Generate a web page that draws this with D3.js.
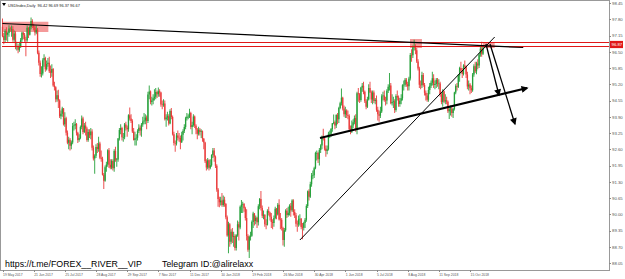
<!DOCTYPE html>
<html>
<head>
<meta charset="utf-8">
<script src="https://cdnjs.cloudflare.com/ajax/libs/d3/7.8.5/d3.min.js"></script>
<style>
    body { margin: 0; background: #fff; }
    svg { display: block; }
    .axis text { font-family: Arial, "Liberation Sans", sans-serif; fill: #555; }
    .axis path, .axis line { stroke: #888; shape-rendering: crispEdges; }
</style>
</head>
<body>
<div id="vis"></div>
<script>
// USDIndex daily bars, 19 May 2017 -> 29 Oct 2018 (one entry per bar)
var opens = [97.50,97.13,96.97,97.33,97.18,97.25,97.43,97.41,97.41,96.98,
97.23,96.71,96.73,96.58,96.73,96.98,97.26,97.18,96.99,96.96,
97.46,97.18,97.49,97.73,97.55,97.47,97.27,97.38,96.46,96.06,
95.61,95.63,96.16,96.25,95.80,96.01,96.06,95.72,95.66,95.81,
95.15,95.08,94.60,94.76,94.55,93.92,94.02,94.23,93.60,93.84,
93.26,92.86,92.98,92.74,92.87,93.53,93.55,93.61,93.26,92.97,
93.05,93.49,93.83,93.29,93.55,93.43,92.97,93.29,93.16,93.31,
92.66,92.23,92.34,92.69,92.61,92.83,92.26,92.22,91.58,91.34,
91.88,91.99,92.56,91.98,91.87,92.13,91.84,92.53,92.18,92.19,
93.03,93.37,93.45,93.08,93.08,93.59,93.46,93.40,93.96,93.83,
93.73,93.31,92.97,93.04,93.06,93.33,93.46,93.35,93.59,93.71,
93.75,93.87,93.73,94.79,94.91,94.49,94.55,94.64,94.70,94.89,
94.80,94.92,94.87,94.39,94.38,94.43,93.80,93.87,93.92,93.63,
94.13,93.89,93.20,92.85,92.83,93.15,93.06,93.05,92.88,93.18,
93.33,93.49,93.84,93.90,93.90,94.05,93.49,93.57,93.91,93.54,
93.39,93.22,93.38,93.29,93.32,93.02,92.87,92.12,91.87,92.16,
91.86,91.96,92.37,92.55,92.30,91.94,90.99,90.61,90.48,90.55,
90.37,90.58,90.41,89.88,89.15,89.60,88.90,89.30,89.10,89.13,
88.65,89.16,89.60,89.47,90.30,90.39,90.41,90.24,89.85,89.13,
88.58,89.10,89.14,89.69,90.03,89.73,89.86,89.68,90.32,90.61,
90.25,89.94,89.98,89.60,89.58,90.13,90.06,89.90,89.69,89.65,
89.85,90.22,89.99,90.38,89.79,89.78,89.45,88.97,89.36,90.14,
89.97,90.06,90.34,90.16,90.55,90.09,89.96,89.62,89.60,89.80,
89.82,89.49,89.46,89.65,89.78,90.33,90.92,90.70,91.20,91.55,
91.56,91.84,92.45,92.45,92.20,92.57,92.75,93.09,93.04,92.63,
92.53,92.60,93.22,93.22,93.41,93.64,93.68,93.55,93.97,93.80,
94.25,94.44,94.66,94.23,94.00,94.15,93.97,93.94,93.40,93.31,
93.55,93.68,93.85,93.43,94.84,94.80,94.57,95.07,95.14,94.90,
94.52,94.30,94.59,95.05,94.88,94.59,94.87,94.53,94.58,94.18,
94.00,93.94,94.11,94.72,94.75,94.57,94.55,94.94,95.10,95.15,
94.44,94.49,94.52,94.17,94.73,94.67,94.41,94.54,94.64,95.16,
95.18,95.38,95.20,95.12,95.43,96.37,96.36,96.68,96.72,96.56,
96.11,95.83,95.18,95.16,95.57,95.17,94.86,94.75,94.58,94.97,
95.14,95.26,95.44,95.17,95.21,95.38,95.23,95.23,94.79,94.49,
94.92,94.51,94.56,94.50,94.12,94.20,94.23,94.05,94.21,94.87,
95.13,95.10,95.55,95.85,95.74,95.61,95.95,95.90,95.59,95.11,
95.19,95.04,94.96,95.59,95.92,95.72,96.03,95.95,96.39,96.62,
96.42];
var highs = [97.83,97.25,97.40,97.48,97.30,97.56,97.50,97.55,97.52,97.35,
97.32,96.90,96.80,96.90,97.05,97.30,97.30,97.25,97.10,97.55,
97.48,97.55,97.87,97.80,97.62,97.55,97.55,97.45,96.55,96.15,
95.92,96.24,96.40,96.30,96.15,96.25,96.30,95.95,96.00,95.85,
95.30,95.12,94.95,94.98,94.60,94.15,94.30,94.25,94.08,93.90,
93.35,93.10,93.05,92.95,93.65,93.70,93.80,93.65,93.30,93.20,
93.55,93.95,93.90,93.65,93.70,93.50,93.40,93.40,93.45,93.40,
92.75,92.40,92.80,92.85,93.10,92.90,92.55,92.30,91.65,91.95,
92.10,92.60,92.65,92.20,92.20,92.20,92.60,92.70,92.25,93.05,
93.45,93.60,93.50,93.25,93.65,93.70,93.55,94.00,94.27,94.00,
93.80,93.45,93.30,93.20,93.40,93.60,93.55,93.65,93.90,94.05,
94.00,93.95,94.90,95.15,94.95,94.70,94.80,95.00,95.05,94.95,
95.07,95.00,94.90,94.55,94.60,94.55,94.00,94.10,94.00,94.20,
94.25,93.95,93.30,92.95,93.25,93.35,93.25,93.15,93.30,93.40,
93.60,93.90,94.05,94.00,94.22,94.10,93.70,94.00,93.95,93.60,
93.45,93.50,93.45,93.40,93.35,93.05,92.90,92.20,92.25,92.20,
92.20,92.40,92.65,92.65,92.35,92.00,91.05,90.70,90.70,90.85,
90.75,90.70,90.45,89.95,89.70,89.65,89.40,89.45,89.30,89.20,
89.20,89.75,89.70,90.35,90.57,90.50,90.45,90.30,90.20,89.20,
89.15,89.30,89.75,90.10,90.05,89.95,89.90,90.40,90.65,90.93,
90.35,90.15,90.00,89.80,90.20,90.30,90.10,90.05,89.80,89.95,
90.30,90.25,90.45,90.60,90.05,89.85,89.50,89.45,90.20,90.25,
90.30,90.40,90.45,90.60,90.60,90.20,90.05,89.75,89.95,90.00,
89.85,89.65,89.70,89.85,90.40,90.95,91.00,91.30,91.65,91.75,
91.90,92.50,92.55,92.50,92.65,92.80,93.15,93.42,93.10,92.75,
92.75,93.30,93.35,93.45,93.65,93.99,93.75,94.00,94.05,94.30,
94.50,95.03,94.70,94.35,94.30,94.20,94.15,94.00,93.55,93.75,
93.80,93.95,94.00,94.90,95.05,94.85,95.10,95.25,95.30,94.95,
94.60,94.70,95.20,95.30,94.95,94.95,94.95,94.65,94.75,94.30,
94.15,94.30,94.80,94.90,94.95,94.70,95.00,95.20,95.65,95.25,
94.80,94.70,94.60,94.80,94.95,94.75,94.65,94.80,95.20,95.35,
95.45,95.45,95.30,95.50,96.45,96.60,96.75,96.98,96.80,96.65,
96.20,95.90,95.35,95.70,95.65,95.25,94.95,94.85,95.10,95.25,
95.35,95.70,95.60,95.35,95.45,95.45,95.40,95.30,94.85,95.00,
94.95,94.80,94.70,94.55,94.30,94.35,94.30,94.25,94.90,95.20,
95.25,95.60,95.90,96.10,95.85,96.00,96.15,95.95,95.70,95.35,
95.25,95.15,95.65,96.00,96.10,96.10,96.20,96.45,96.70,96.90,
96.69];
var lows = [97.08,96.80,96.85,96.95,96.90,97.10,97.30,97.10,96.90,96.90,
96.60,96.55,96.44,96.50,96.65,96.90,97.00,96.90,96.32,96.90,
97.05,97.15,97.40,97.45,97.35,97.15,97.20,96.40,95.95,95.50,
95.47,95.55,95.90,95.70,95.75,95.90,95.65,95.45,95.50,95.10,
94.95,94.48,94.50,94.25,93.85,93.80,93.90,93.55,93.50,93.15,
92.80,92.60,92.55,92.60,92.80,93.35,93.40,93.15,92.85,92.90,
93.00,93.40,93.20,93.25,93.15,92.90,92.90,93.05,93.00,92.55,
92.15,91.62,92.25,92.45,92.50,92.20,92.10,91.55,91.01,91.30,
91.70,91.90,91.85,91.80,91.80,91.75,91.70,92.10,91.90,92.10,
92.95,93.20,92.95,92.90,93.00,93.35,93.10,93.30,93.75,93.65,
93.25,92.95,92.75,92.75,92.95,93.25,93.15,93.10,93.50,93.60,
93.60,93.40,93.65,94.60,94.40,94.35,94.40,94.55,94.60,94.65,
94.70,94.70,94.30,94.20,94.30,93.75,93.50,93.75,93.55,93.60,
93.80,93.15,92.75,92.50,92.75,92.95,92.90,92.60,92.85,92.95,
93.25,93.40,93.75,93.80,93.85,93.40,93.20,93.50,93.45,93.20,
93.00,93.15,93.15,93.05,92.90,92.60,92.05,91.75,91.80,91.75,
91.80,91.90,92.25,92.10,91.85,90.90,90.30,90.28,90.35,90.30,
90.30,90.30,89.80,89.10,88.44,88.70,88.80,88.85,88.70,88.55,
88.55,89.10,88.95,89.40,90.05,90.05,90.10,89.75,88.95,88.50,
88.25,88.95,89.10,89.45,89.55,89.60,89.45,89.55,90.20,90.15,
89.85,89.80,89.50,89.40,89.55,89.95,89.75,89.45,89.40,89.50,
89.80,89.80,89.95,89.75,89.40,89.35,88.75,88.70,89.30,89.85,
89.90,89.95,89.90,90.10,89.95,89.85,89.50,89.30,89.50,89.55,
89.40,89.00,89.35,89.45,89.70,90.25,90.55,90.65,91.10,91.40,
91.45,91.80,92.15,92.05,91.95,92.45,92.60,92.95,92.55,92.30,
92.40,92.55,93.05,93.10,93.30,93.60,93.40,93.45,93.60,93.65,
94.20,94.35,94.15,93.90,93.85,93.85,93.80,93.30,93.20,93.25,
93.45,93.60,93.30,93.20,94.50,94.45,94.50,94.90,94.80,94.45,
94.20,94.25,94.55,94.85,94.45,94.40,94.45,94.40,94.10,93.75,
93.70,93.85,94.05,94.55,94.50,94.35,94.40,94.85,94.95,94.40,
94.35,94.25,94.05,94.10,94.55,94.30,94.30,94.40,94.55,94.95,
95.10,95.10,94.95,94.95,95.35,96.10,96.25,96.55,96.40,96.05,
95.75,95.05,95.00,95.05,95.10,94.75,94.55,94.50,94.50,94.80,
95.05,95.15,95.05,95.00,95.05,95.10,95.00,94.70,94.40,94.30,
94.45,94.40,94.40,94.05,93.81,93.95,93.90,93.85,94.15,94.80,
94.95,95.05,95.30,95.65,95.45,95.55,95.80,95.45,95.00,94.95,
94.80,94.85,94.90,95.50,95.65,95.60,95.80,95.85,96.30,96.30,
96.37];
var closes = [97.13,96.97,97.33,97.18,97.25,97.43,97.41,97.41,96.98,97.23,
96.71,96.73,96.58,96.73,96.98,97.26,97.18,96.99,96.96,97.46,
97.18,97.49,97.73,97.55,97.47,97.27,97.38,96.46,96.06,95.61,
95.63,96.16,96.25,95.80,96.01,96.06,95.72,95.66,95.81,95.15,
95.08,94.60,94.76,94.55,93.92,94.02,94.23,93.60,93.84,93.26,
92.86,92.98,92.74,92.87,93.53,93.55,93.61,93.26,92.97,93.05,
93.49,93.83,93.29,93.55,93.43,92.97,93.29,93.16,93.31,92.66,
92.23,92.34,92.69,92.61,92.83,92.26,92.22,91.58,91.34,91.88,
91.99,92.56,91.98,91.87,92.13,91.84,92.53,92.18,92.19,93.03,
93.37,93.45,93.08,93.08,93.59,93.46,93.40,93.96,93.83,93.73,
93.31,92.97,93.04,93.06,93.33,93.46,93.35,93.59,93.71,93.75,
93.87,93.73,94.79,94.91,94.49,94.55,94.64,94.70,94.89,94.80,
94.92,94.87,94.39,94.38,94.43,93.80,93.87,93.92,93.63,94.13,
93.89,93.20,92.85,92.83,93.15,93.06,93.05,92.88,93.18,93.33,
93.49,93.84,93.90,93.90,94.05,93.49,93.57,93.91,93.54,93.39,
93.22,93.38,93.29,93.32,93.02,92.87,92.12,91.87,92.16,91.86,
91.96,92.37,92.55,92.30,91.94,90.99,90.61,90.48,90.55,90.37,
90.58,90.41,89.88,89.15,89.60,88.90,89.30,89.10,89.13,88.65,
89.16,89.60,89.47,90.30,90.39,90.41,90.24,89.85,89.13,88.58,
89.10,89.14,89.69,90.03,89.73,89.86,89.68,90.32,90.61,90.25,
89.94,89.98,89.60,89.58,90.13,90.06,89.90,89.69,89.65,89.85,
90.22,89.99,90.38,89.79,89.78,89.45,88.97,89.36,90.14,89.97,
90.06,90.34,90.16,90.55,90.09,89.96,89.62,89.60,89.80,89.82,
89.49,89.46,89.65,89.78,90.33,90.92,90.70,91.20,91.55,91.56,
91.84,92.45,92.45,92.20,92.57,92.75,93.09,93.04,92.63,92.53,
92.60,93.22,93.22,93.41,93.64,93.68,93.55,93.97,93.80,94.25,
94.44,94.66,94.23,94.00,94.15,93.97,93.94,93.40,93.31,93.55,
93.68,93.85,93.43,94.84,94.80,94.57,95.07,95.14,94.90,94.52,
94.30,94.59,95.05,94.88,94.59,94.87,94.53,94.58,94.18,94.00,
93.94,94.11,94.72,94.75,94.57,94.55,94.94,95.10,95.15,94.44,
94.49,94.52,94.17,94.73,94.67,94.41,94.54,94.64,95.16,95.18,
95.38,95.20,95.12,95.43,96.37,96.36,96.68,96.72,96.56,96.11,
95.83,95.18,95.16,95.57,95.17,94.86,94.75,94.58,94.97,95.14,
95.26,95.44,95.17,95.21,95.38,95.23,95.23,94.79,94.49,94.92,
94.51,94.56,94.50,94.12,94.20,94.23,94.05,94.21,94.87,95.13,
95.10,95.55,95.85,95.74,95.61,95.95,95.90,95.59,95.11,95.19,
95.04,94.96,95.59,95.92,95.72,96.03,95.95,96.39,96.62,96.42,
96.67];

var dateLabels = ['19 May 2017', '21 Jun 2017', '25 Jul 2017', '28 Aug 2017', '29 Sep 2017',
                  '7 Nov 2017', '11 Dec 2017', '10 Jan 2018', '19 Feb 2018', '26 Mar 2018',
                  '30 Apr 2018', '1 Jun 2018', '5 Jul 2018', '8 Aug 2018', '11 Sep 2018', '15 Oct 2018'];
var barsPerLabel = 24;
var priceTicks = [98.45, 97.80, 97.15, 96.50, 95.85, 95.20, 94.55, 93.90, 93.25,
                  92.60, 91.95, 91.30, 90.65, 90.00, 89.35, 88.70, 88.05];

// objects drawn on the chart, as [bar index, price]
var topLine = [[0, 97.63], [401, 96.67]];
var riseLine = [[229, 88.97], [379, 97.09]];
var supportArrow = [[244.5, 93.05], [404, 95.05]];
var dropArrows = [
    [[372.3, 96.81], [382.3, 94.77]],
    [[375.4, 96.81], [394.6, 93.61]]
];
var zones = [
    { from: 0, to: 35.3, top: 97.70, bottom: 97.29 },
    { from: 313.8, to: 323, top: 97.01, bottom: 96.65 },
    { from: 370, to: 379, top: 96.89, bottom: 96.65 }
];
var levels = [96.87, 96.71];
var header = 'USDIndex,Daily  96.42 96.69 96.37 96.67';
var watermark = ['https://t.me/FOREX__RIVER__VIP', 'Telegram ID:@alirelaxx'];

var width = 625;
var height = 279;
var plotLeft = 1;
var plotRight = 609;
var plotTop = 1;
var plotBottom = 270;

var svg = d3.select('#vis')
            .append('svg')
            .attr('width', width)
            .attr('height', height);

var xScale = d3.scaleLinear()
                .domain([0, 360])
                .range([2.5, 470]);
var yScale = d3.scaleLinear()
                .domain([88.05, 98.45])
                .range([263, 3]);

svg.append('defs').append('marker')
    .attr('id', 'arrow')
    .attr('viewBox', '0 0 10 10')
    .attr('refX', 8)
    .attr('refY', 5)
    .attr('markerUnits', 'userSpaceOnUse')
    .attr('markerWidth', 8)
    .attr('markerHeight', 7)
    .attr('orient', 'auto')
    .append('path')
    .attr('d', 'M0,0 L10,5 L0,10 z')
    .attr('fill', '#000');

var g = svg.append('g');

// zones behind the candles
g.selectAll('rect.zone')
    .data(zones)
    .enter().append('rect')
    .attr('class', 'zone')
    .attr('x', function(d) { return xScale(d.from); })
    .attr('width', function(d) { return xScale(d.to) - xScale(d.from); })
    .attr('y', function(d) { return yScale(d.top); })
    .attr('height', function(d) { return yScale(d.bottom) - yScale(d.top); })
    .attr('fill', '#f07878')
    .attr('opacity', 0.75);

////////////////////////////////////Candles////////////////////////////////////
var bars = d3.range(closes.length);
var candleColor = function(i) { return closes[i] >= opens[i] ? '#25a03a' : '#ea3b3b'; };

g.selectAll('line.wick')
    .data(bars)
    .enter().append('line')
    .attr('class', 'wick')
    .attr('x1', function(i) { return xScale(i); })
    .attr('x2', function(i) { return xScale(i); })
    .attr('y1', function(i) { return yScale(highs[i]); })
    .attr('y2', function(i) { return yScale(lows[i]); })
    .attr('stroke', candleColor)
    .attr('stroke-width', 0.9);

g.selectAll('rect.body')
    .data(bars)
    .enter().append('rect')
    .attr('class', 'body')
    .attr('x', function(i) { return xScale(i) - 0.65; })
    .attr('width', 1.3)
    .attr('y', function(i) { return yScale(Math.max(opens[i], closes[i])); })
    .attr('height', function(i) { return Math.max(0.6, Math.abs(yScale(opens[i]) - yScale(closes[i]))); })
    .attr('fill', candleColor);

// red horizontal levels
g.selectAll('line.level')
    .data(levels)
    .enter().append('line')
    .attr('class', 'level')
    .attr('x1', plotLeft + 1)
    .attr('x2', plotRight)
    .attr('y1', function(d) { return yScale(d); })
    .attr('y2', function(d) { return yScale(d); })
    .attr('stroke', '#e01818')
    .attr('stroke-width', 1.1);

var line = d3.line()
    .x(function(d) { return xScale(d[0]); })
    .y(function(d) { return yScale(d[1]); });

g.append('path').datum(topLine)
    .attr('d', line).attr('fill', 'none')
    .attr('stroke', '#000').attr('stroke-width', 1.2);
g.append('path').datum(riseLine)
    .attr('d', line).attr('fill', 'none')
    .attr('stroke', '#000').attr('stroke-width', 1);
g.append('path').datum(supportArrow)
    .attr('d', line).attr('fill', 'none')
    .attr('stroke', '#000').attr('stroke-width', 2)
    .attr('marker-end', 'url(#arrow)');
g.selectAll('path.drop')
    .data(dropArrows)
    .enter().append('path')
    .attr('class', 'drop')
    .attr('d', line).attr('fill', 'none')
    .attr('stroke', '#000').attr('stroke-width', 1.3)
    .attr('marker-end', 'url(#arrow)');

////////////////////////////////////Axes////////////////////////////////////
svg.append('rect')
    .attr('x', plotLeft - 0.5)
    .attr('y', plotTop - 0.5)
    .attr('width', plotRight - plotLeft + 0.5)
    .attr('height', plotBottom - plotTop + 0.5)
    .attr('fill', 'none')
    .attr('stroke', '#999')
    .attr('shape-rendering', 'crispEdges');

var yAxis = d3.axisRight(yScale)
                .tickValues(priceTicks)
                .tickSize(2)
                .tickPadding(1)
                .tickFormat(d3.format('.2f'));
svg.append('g')
    .attr('class', 'axis')
    .attr('transform', 'translate(' + plotRight + ', 0)')
    .call(yAxis)
    .call(function(a) { a.select('.domain').remove(); })
    .selectAll('text')
    .style('font-size', '4.3px');

var xAxis = d3.axisBottom(xScale)
                .tickValues(d3.range(0, dateLabels.length).map(function(k) { return k * barsPerLabel; }))
                .tickSize(2)
                .tickFormat(function(d, i) { return dateLabels[i]; });
svg.append('g')
    .attr('class', 'axis')
    .attr('transform', 'translate(0, ' + plotBottom + ')')
    .call(xAxis)
    .call(function(a) { a.select('.domain').remove(); })
    .selectAll('text')
    .attr('text-anchor', 'start')
    .attr('x', 0)
    .attr('y', 3)
    .attr('dy', '0.75em')
    .style('font-size', '3.4px');

// price label on the axis for the red levels
var tag = svg.append('g')
    .attr('transform', 'translate(' + plotRight + ', ' + yScale(d3.mean(levels)) + ')');
tag.append('rect')
    .attr('x', 1).attr('y', -3.6)
    .attr('width', 13).attr('height', 7.2)
    .attr('fill', '#e01818');
tag.append('text')
    .attr('x', 2.5).attr('y', 1.5)
    .attr('fill', '#fff')
    .style('font-family', 'Arial, "Liberation Sans", sans-serif')
    .style('font-size', '4.3px')
    .text(d3.format('.2f')(levels[0]));

// header
svg.append('path')
    .attr('d', 'M2,3 L6,3 L4,6 Z')
    .attr('fill', '#000');
svg.append('text')
    .attr('x', 8)
    .attr('y', 6.5)
    .style('font-family', 'Arial, "Liberation Sans", sans-serif')
    .style('font-size', '3.9px')
    .attr('fill', '#222')
    .attr('xml:space', 'preserve')
    .text(header);

// watermark text at the bottom
svg.selectAll('text.mark')
    .data(watermark)
    .enter().append('text')
    .attr('class', 'mark')
    .attr('x', function(d, i) { return i == 0 ? 5 : 162; })
    .attr('y', 267)
    .style('font-family', 'Arial, "Liberation Sans", sans-serif')
    .style('font-size', '8.8px')
    .attr('fill', '#000')
    .text(function(d) { return d; });
</script>
</body>
</html>
